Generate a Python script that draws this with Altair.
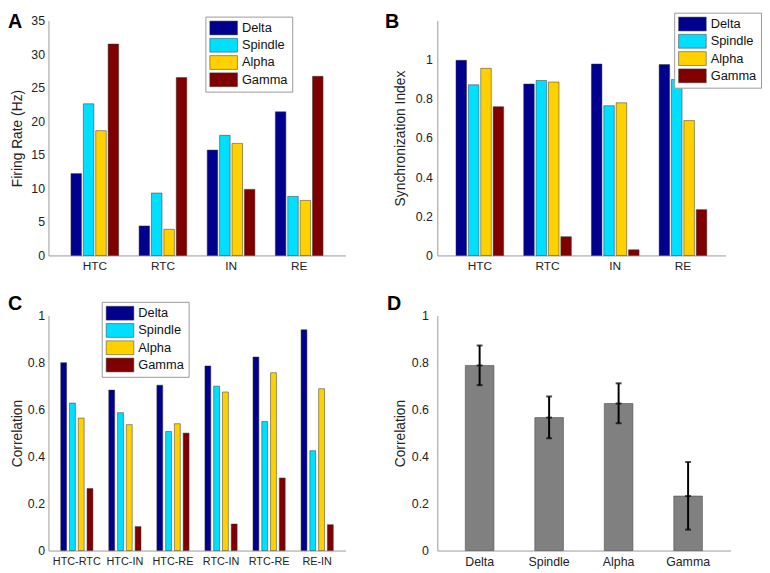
import altair as alt
import pandas as pd

FONT = "Liberation Sans, Arial, sans-serif"

cells = ["HTC", "RTC", "IN", "RE"]
bands = ["Delta", "Spindle", "Alpha", "Gamma"]
band_colors = ["#00008F", "#00DFFF", "#FFD100", "#800000"]

rate_delta = [12.2, 4.4, 15.7, 21.4]
rate_spindle = [22.6, 9.3, 17.9, 8.8]
rate_alpha = [18.6, 3.9, 16.7, 8.2]
rate_gamma = [31.5, 26.5, 9.85, 26.7]

sync_delta = [0.997, 0.876, 0.978, 0.975]
sync_spindle = [0.872, 0.894, 0.765, 0.899]
sync_alpha = [0.956, 0.886, 0.780, 0.689]
sync_gamma = [0.760, 0.096, 0.029, 0.234]

pairs = ["HTC-RTC", "HTC-IN", "HTC-RE", "RTC-IN", "RTC-RE", "RE-IN"]
corr_delta = [0.800, 0.683, 0.704, 0.786, 0.824, 0.940]
corr_spindle = [0.628, 0.587, 0.507, 0.700, 0.549, 0.425]
corr_alpha = [0.564, 0.536, 0.540, 0.675, 0.757, 0.689]
corr_gamma = [0.264, 0.102, 0.500, 0.113, 0.309, 0.110]

mean_corr = [0.788, 0.566, 0.626, 0.232]
err_low = [0.704, 0.478, 0.542, 0.089]
err_high = [0.873, 0.656, 0.712, 0.377]


def long_df(cats, series):
    rows = []
    for b, vals in zip(bands, series):
        for c, v in zip(cats, vals):
            rows.append({"cat": c, "band": b, "value": v})
    return pd.DataFrame(rows)


dfA = long_df(cells, [rate_delta, rate_spindle, rate_alpha, rate_gamma])
dfB = long_df(cells, [sync_delta, sync_spindle, sync_alpha, sync_gamma])
dfC = long_df(pairs, [corr_delta, corr_spindle, corr_alpha, corr_gamma])
dfD = pd.DataFrame({"band": bands, "mean": mean_corr, "lo": err_low, "hi": err_high})


def letter(ch, lx, ly):
    return alt.Chart(pd.DataFrame({"t": [ch]})).mark_text(
        font=FONT, fontSize=20, fontWeight="bold", align="left", baseline="top", color="black"
    ).encode(text="t:N", x=alt.value(lx), y=alt.value(ly))


def grouped(df, order, ytitle, ydomain, yvalues, width, pin, pout, offpin,
            lx, ly, ch, chx, chy, ylabpad, ytitlepad, xlabsize):
    bars = alt.Chart(df).mark_bar(stroke="#333333", strokeWidth=0.5).encode(
        x=alt.X("cat:N", sort=order, title=None,
                scale=alt.Scale(paddingInner=pin, paddingOuter=pout),
                axis=alt.Axis(labelAngle=0, labelPadding=5, labelFontSize=xlabsize)),
        xOffset=alt.XOffset("band:N", sort=bands,
                            scale=alt.Scale(paddingInner=offpin, paddingOuter=0)),
        y=alt.Y("value:Q", scale=alt.Scale(domain=ydomain, nice=False, zero=True),
                axis=alt.Axis(values=yvalues, format="~g", title=ytitle,
                              labelPadding=ylabpad, titlePadding=ytitlepad)),
        fill=alt.Fill("band:N", sort=bands,
                      scale=alt.Scale(domain=bands, range=band_colors),
                      legend=alt.Legend(title=None, orient="none", legendX=lx, legendY=ly,
                                        symbolType="M-1,-1H3V1H-1Z", symbolSize=196,
                                        symbolStrokeColor="#333333", symbolStrokeWidth=0.5,
                                        symbolOpacity=1,
                                        labelFont=FONT, labelFontSize=13, labelColor="#111111",
                                        labelOffset=18, strokeColor="#999999", fillColor="white",
                                        padding=4, rowPadding=0.5)),
    )
    return alt.layer(bars, letter(ch, chx, chy)).properties(width=width, height=238)


A = grouped(dfA, cells, "Firing Rate (Hz)", [0, 35], [0, 5, 10, 15, 20, 25, 30, 35],
            301, 0.3, 0.33, 0.15, 159, -4, "A", -41, -8, 4, 6, 12)
B = grouped(dfB, cells, "Synchronization Index", [0, 1.2], [0, 0.2, 0.4, 0.6, 0.8, 1],
            292, 0.296, 0.276, 0.15, 240, -8, "B", -53, -8, 5, 8, 12)
C = grouped(dfC, pairs, "Correlation", [0, 1], [0, 0.2, 0.4, 0.6, 0.8, 1],
            301, 0.33, 0.255, 0.33, 54, -14, "C", -41, -22, 4, 3, 11)

xD = alt.X("band:N", sort=bands, title=None,
           scale=alt.Scale(paddingInner=0.588, paddingOuter=0.403),
           axis=alt.Axis(labelAngle=0, labelPadding=5))
yaxD = alt.Axis(values=[0, 0.2, 0.4, 0.6, 0.8, 1], format="~g", title="Correlation",
                labelPadding=9, titlePadding=4)
barsD = alt.Chart(dfD).mark_bar(color="#808080", stroke="#4d4d4d", strokeWidth=0.6).encode(
    x=xD,
    y=alt.Y("mean:Q", scale=alt.Scale(domain=[0, 1], nice=False), axis=yaxD),
)
ruleD = alt.Chart(dfD).mark_rule(color="black", strokeWidth=2).encode(
    x=xD, y=alt.Y("lo:Q"), y2="hi:Q"
)
ticksD = alt.Chart(dfD).transform_fold(["lo", "mean", "hi"], as_=["k", "v"]).mark_tick(
    color="black", thickness=2, size=6
).encode(x=xD, y=alt.Y("v:Q"))
D = alt.layer(barsD, ruleD, ticksD, letter("D", -51, -22)).properties(width=297, height=238)

chart = alt.concat(
    A, B, C, D, columns=2, spacing={"row": 61, "column": 93}, bounds="flush",
).resolve_scale(
    x="independent", y="independent", fill="independent", xOffset="independent"
).resolve_legend(fill="independent").configure_view(stroke=None).configure_axis(
    domainColor="#999999", domainWidth=1, ticks=False, grid=False,
    labelFont=FONT, labelFontSize=12.5, labelColor="#222222",
    titleFont=FONT, titleFontSize=14, titleFontWeight="normal", titleColor="#222222",
).properties(padding={"left": 0, "top": 0, "right": 0, "bottom": 0})

chart.save("out.html", embed_options={"renderer": "svg", "actions": False})
